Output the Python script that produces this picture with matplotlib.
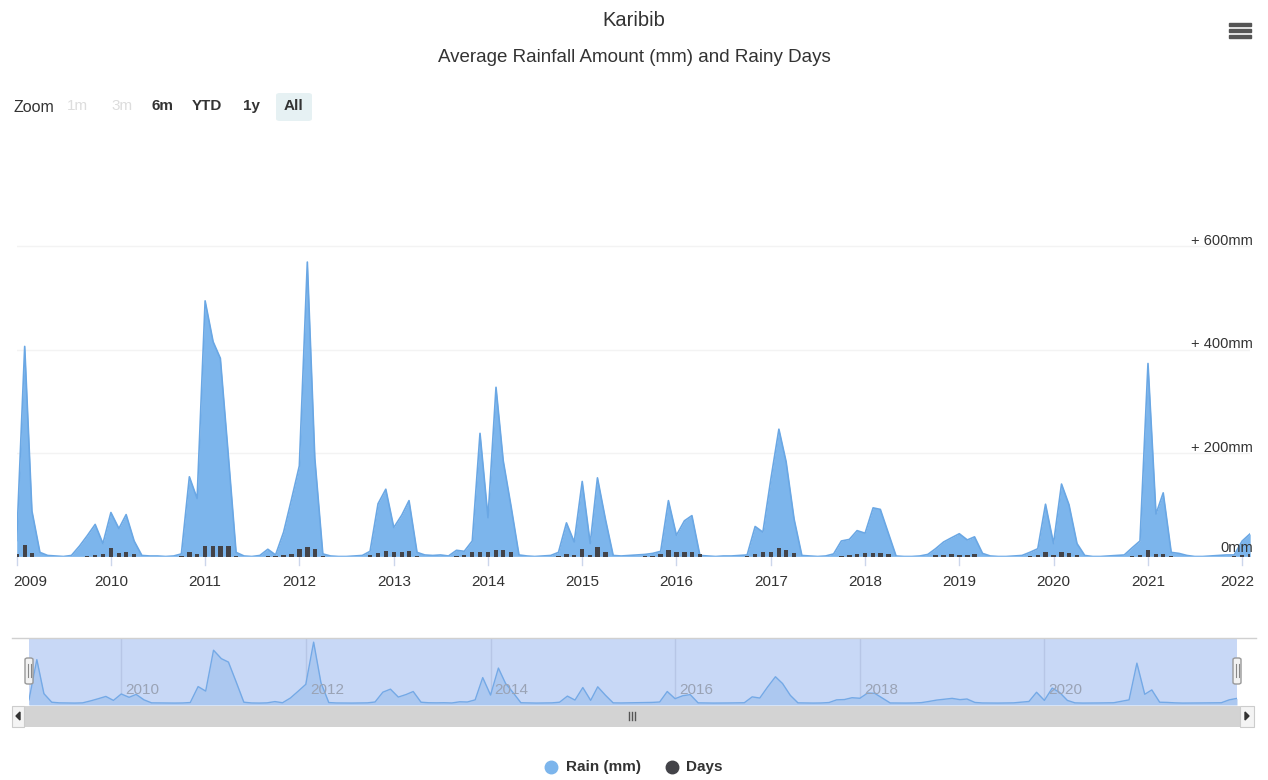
import matplotlib
matplotlib.use('Agg')
import matplotlib.pyplot as plt
import matplotlib.dates as mdates
from matplotlib.patches import Rectangle, FancyBboxPatch
import pandas as pd

W, H = 1268, 780
FONT = ['Liberation Sans', 'DejaVu Sans']
plt.rcParams['font.family'] = FONT

title = "Karibib"
subtitle = "Average Rainfall Amount (mm) and Rainy Days"

months = pd.date_range('2009-01-01', '2022-02-01', freq='MS')

rain_2009 = [31, 406, 88, 8, 2, 1, 0, 2, 20, 40, 62, 25]
rain_2010 = [85, 54, 81, 30, 2, 1, 1, 0, 1, 5, 154, 112]
rain_2011 = [494, 415, 383, 195, 8, 1, 0, 2, 14, 3, 47, 109]
rain_2012 = [175, 569, 190, 5, 1, 0, 0, 1, 2, 10, 102, 130]
rain_2013 = [56, 80, 108, 8, 3, 2, 3, 1, 12, 10, 30, 238]
rain_2014 = [75, 327, 185, 95, 3, 1, 0, 1, 2, 8, 65, 28]
rain_2015 = [145, 25, 152, 72, 2, 1, 2, 3, 4, 6, 10, 108]
rain_2016 = [41, 69, 79, 2, 1, 0, 1, 1, 2, 3, 58, 47]
rain_2017 = [150, 246, 183, 72, 2, 1, 0, 1, 5, 30, 33, 50]
rain_2018 = [45, 94, 91, 45, 1, 0, 0, 1, 4, 15, 28, 36]
rain_2019 = [44, 32, 38, 6, 1, 0, 0, 1, 2, 8, 15, 101]
rain_2020 = [25, 140, 100, 25, 2, 0, 0, 1, 2, 3, 17, 30]
rain_2021 = [373, 82, 123, 8, 6, 2, 0, 0, 1, 2, 3, 3]
rain_2022 = [30, 44]

days_2009 = [4, 22, 6, 0, 0, 0, 0, 0, 0, 1, 2, 5]
days_2010 = [16, 6, 8, 5, 0, 0, 0, 0, 0, 1, 8, 5]
days_2011 = [21, 21, 20, 20, 1, 0, 0, 0, 1, 1, 2, 5]
days_2012 = [15, 18, 14, 1, 0, 0, 0, 0, 0, 2, 7, 11]
days_2013 = [8, 8, 11, 1, 0, 0, 0, 0, 1, 2, 8, 9]
days_2014 = [9, 13, 13, 9, 0, 0, 0, 0, 0, 1, 4, 3]
days_2015 = [15, 2, 18, 9, 0, 0, 0, 0, 1, 1, 4, 13]
days_2016 = [9, 9, 8, 4, 0, 0, 0, 0, 0, 1, 4, 8]
days_2017 = [9, 17, 13, 7, 0, 0, 0, 0, 0, 1, 2, 4]
days_2018 = [6, 6, 6, 4, 0, 0, 0, 0, 0, 2, 2, 4]
days_2019 = [2, 2, 5, 0, 0, 0, 0, 0, 0, 1, 2, 8]
days_2020 = [2, 8, 7, 2, 0, 0, 0, 0, 0, 0, 1, 2]
days_2021 = [13, 4, 5, 1, 0, 0, 0, 0, 0, 0, 0, 1]
days_2022 = [3, 5]

rain_mm = (rain_2009 + rain_2010 + rain_2011 + rain_2012 + rain_2013 + rain_2014 +
           rain_2015 + rain_2016 + rain_2017 + rain_2018 + rain_2019 + rain_2020 +
           rain_2021 + rain_2022)
rain_days = (days_2009 + days_2010 + days_2011 + days_2012 + days_2013 + days_2014 +
             days_2015 + days_2016 + days_2017 + days_2018 + days_2019 + days_2020 +
             days_2021 + days_2022)

year_ticks = list(range(2009, 2023))
nav_year_ticks = [2010, 2012, 2014, 2016, 2018, 2020]
y_ticks_mm = [0, 200, 400, 600]
y_tick_labels = ['0mm', '+ 200mm', '+ 400mm', '+ 600mm']
zoom_buttons = ['1m', '3m', '6m', 'YTD', '1y', 'All']
legend_labels = ['Rain (mm)', 'Days']

RAIN_C = '#7cb5ec'
RAIN_LINE = '#6aa7e4'
DAYS_C = '#434348'
TXT = '#333333'


def fx(px):
    return px / W


def fy(py):
    return 1 - py / H


fig = plt.figure(figsize=(W / 100, H / 100), dpi=100)
fig.patch.set_facecolor('white')

x = mdates.date2num(months)
xmin, xmax = x[0], x[-1]

# ---------------- main plot ----------------
base_px, top_px = 556.5, 142.5
left_px, right_px = 16.7, 1250.2
ax = fig.add_axes([fx(left_px), fy(base_px), fx(right_px - left_px), (base_px - top_px) / H])
ax.set_xlim(xmin, xmax)
ax.set_ylim(0, 800)
ax.axis('off')
for v in y_ticks_mm[1:]:
    ax.axhline(v, color='#f3f3f3', lw=1, zorder=0)
ax.fill_between(x, rain_mm, 0, color=RAIN_C, lw=0, zorder=1)
ax.plot(x, rain_mm, color=RAIN_LINE, lw=1.2, zorder=2)
ax.bar(x, rain_days, width=17, color=DAYS_C, zorder=3, align='center')
ax.axhline(0, color='#8fbfee', lw=1.2, zorder=2)

# y labels (right, inside)
scale = (base_px - top_px) / 800.0
for v, lab in zip(y_ticks_mm, y_tick_labels):
    py = base_px - v * scale - (8 if v == 0 else 5)
    fig.text(fx(1253), fy(py), lab, ha='right', va='center', fontsize=10.5, color=TXT)

# x ticks + labels
off = -25.5 * 0.72
for yr in year_ticks:
    xd = mdates.date2num(pd.Timestamp(f'{yr}-01-01'))
    ax.add_line(plt.Line2D([xd, xd], [0, -0.02], transform=ax.get_xaxis_transform(),
                           color='#ccd6eb', lw=1, clip_on=False))
    if yr == year_ticks[0]:
        ha, dx = 'left', -3 * 0.72
    elif yr == year_ticks[-1]:
        ha, dx = 'right', 12 * 0.72
    else:
        ha, dx = 'center', 0
    ax.annotate(str(yr), xy=(xd, 0), xycoords=('data', 'axes fraction'),
                xytext=(dx, off), textcoords='offset points',
                ha=ha, va='center', fontsize=11, color=TXT)

# ---------------- titles ----------------
fig.text(0.5, fy(20), title, ha='center', va='center', fontsize=14.5, color=TXT)
fig.text(0.5, fy(57), subtitle, ha='center', va='center', fontsize=13.5, color=TXT)

# hamburger icon
for yy in (24, 30, 36):
    fig.patches.append(Rectangle((fx(1229), fy(yy + 1.5)), fx(22), 3 / H,
                                 transform=fig.transFigure, color='#555555'))

# ---------------- range selector ----------------
fig.text(fx(13), fy(107), 'Zoom', ha='left', va='center', fontsize=11.5, color=TXT)
btn_x = [77, 122, 163, 207, 251, 294]
fig.patches.append(FancyBboxPatch((fx(276), fy(121)), fx(36), 28 / H,
                                  boxstyle='round,pad=0,rounding_size=0.003',
                                  transform=fig.transFigure, facecolor='#e6f1f3',
                                  edgecolor='none'))
for lab, bx in zip(zoom_buttons, btn_x):
    faded = lab in ('1m', '3m')
    fig.text(fx(bx), fy(106), lab, ha='center', va='center', fontsize=11,
             color='#dddddd' if faded else TXT,
             fontweight='normal' if faded else 'bold')

# ---------------- navigator ----------------
nav_l, nav_r, nav_t, nav_b = 29, 1237, 638, 705
nav = fig.add_axes([fx(nav_l), fy(nav_b), fx(nav_r - nav_l), (nav_b - nav_t) / H])
nav.set_xlim(xmin, xmax)
nav.set_ylim(-18, 608)
nav.set_facecolor('#c8d8f6')
for s in nav.spines.values():
    s.set_visible(False)
nav.set_xticks([])
nav.set_yticks([])
for yr in nav_year_ticks:
    xd = mdates.date2num(pd.Timestamp(f'{yr}-01-01'))
    nav.axvline(xd, color='#b7c6e6', lw=1, zorder=1)
    nav.annotate(str(yr), xy=(xd, 0), xycoords=('data', 'axes fraction'),
                 xytext=(3, 11), textcoords='offset points', ha='left', va='center',
                 fontsize=11, color='#9aa3b5', zorder=4)
nav.fill_between(x, rain_mm, -18, color='#acc8f0', lw=0, zorder=2)
nav.plot(x, rain_mm, color='#74a9e6', lw=1, zorder=3)

# navigator outline
fig.lines.append(plt.Line2D([fx(12), fx(1256)], [fy(638), fy(638)],
                            transform=fig.transFigure, color='#d0d0d0', lw=1))

# handles
for hx in (nav_l, nav_r):
    fig.patches.append(FancyBboxPatch((fx(hx - 4), fy(684)), fx(8), 26 / H,
                                      boxstyle='round,pad=0,rounding_size=0.002',
                                      transform=fig.transFigure, facecolor='#f2f2f2',
                                      edgecolor='#999999', lw=1, zorder=5))
    for dx in (-1.5, 1.5):
        fig.lines.append(plt.Line2D([fx(hx + dx), fx(hx + dx)], [fy(664), fy(677)],
                                    transform=fig.transFigure, color='#888888', lw=0.8,
                                    zorder=6))

# scrollbar
fig.patches.append(Rectangle((fx(24), fy(727)), fx(1240 - 24), 21 / H,
                             transform=fig.transFigure, facecolor='#d3d3d3',
                             edgecolor='none'))
fig.patches.append(Rectangle((fx(12), fy(727)), fx(12), 21 / H,
                             transform=fig.transFigure, facecolor='#f4f4f4',
                             edgecolor='#cccccc', lw=0.8))
fig.patches.append(Rectangle((fx(1240), fy(727)), fx(14), 21 / H,
                             transform=fig.transFigure, facecolor='#f4f4f4',
                             edgecolor='#cccccc', lw=0.8))
fig.patches.append(plt.Polygon([(fx(16), fy(716)), (fx(20), fy(712)), (fx(20), fy(720))],
                               transform=fig.transFigure, color='#333333'))
fig.patches.append(plt.Polygon([(fx(1249), fy(716)), (fx(1245), fy(712)), (fx(1245), fy(720))],
                               transform=fig.transFigure, color='#333333'))
for gx in (629, 632, 635):
    fig.lines.append(plt.Line2D([fx(gx), fx(gx)], [fy(712), fy(720)],
                                transform=fig.transFigure, color='#555555', lw=1))

# ---------------- legend ----------------
leg_items = [(551, 566, legend_labels[0], RAIN_C), (672, 686, legend_labels[1], DAYS_C)]
for cx, tx, lab, col in leg_items:
    fig.lines.append(plt.Line2D([fx(cx)], [fy(767)], transform=fig.transFigure,
                                marker='o', markersize=9, color=col, linestyle='none'))
    fig.text(fx(tx), fy(767), lab, ha='left', va='center', fontsize=11,
             fontweight='bold', color=TXT)

fig.savefig('out.png', dpi=100, facecolor='white')
